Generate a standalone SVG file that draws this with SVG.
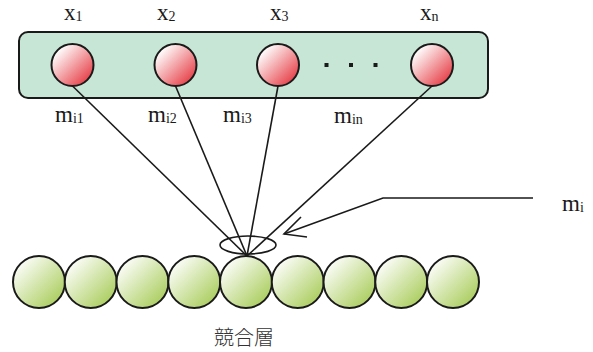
<svg xmlns="http://www.w3.org/2000/svg" width="593" height="352" viewBox="0 0 593 352">
  <defs>
    <linearGradient id="redBall" x1="0.15" y1="0.15" x2="0.9" y2="0.9">
      <stop offset="0" stop-color="#ffffff"/>
      <stop offset="1" stop-color="#e53a42"/>
    </linearGradient>
    <linearGradient id="greenBall" x1="0.1" y1="0.1" x2="1" y2="1">
      <stop offset="0" stop-color="#ffffff"/>
      <stop offset="1" stop-color="#9ec646"/>
    </linearGradient>
  </defs>
  <style>
    .inp { fill: url(#redBall); stroke: #1a1a1a; stroke-width: 2; }
    .unit { fill: url(#greenBall); stroke: #1a1a1a; stroke-width: 2; }
    .wire { stroke: #1a1a1a; stroke-width: 1.6; fill: none; }
    .lbl { font-family: "Liberation Serif", "DejaVu Serif", serif; font-size: 23px; fill: #1a1a1a; }
    .sub { font-size: 14px; }
    .cjk { font-family: "Noto Sans CJK JP", "Noto Sans CJK SC", sans-serif; font-size: 20px; fill: #333333; font-weight: 300; }
  </style>

  <!-- input layer -->
  <g id="input-layer">
    <rect x="19" y="32" width="469" height="66" rx="9" ry="9" fill="#c8e6d5" stroke="#1a1a1a" stroke-width="2"/>
  </g>
  <g id="x1"><circle class="inp" cx="72.5" cy="65" r="21"/></g>
  <g id="x2"><circle class="inp" cx="175.5" cy="65" r="21"/></g>
  <g id="x3"><circle class="inp" cx="278" cy="65" r="21"/></g>
  <g id="xn"><circle class="inp" cx="432" cy="65" r="21"/></g>
  <g id="ellipsis" fill="#1a1a1a">
    <rect x="324.5" y="63" width="4" height="4"/>
    <rect x="349" y="63" width="4" height="4"/>
    <rect x="373.5" y="63" width="4" height="4"/>
  </g>

  <!-- input labels -->
  <g id="input-labels" class="lbl">
    <text x="64" y="20">x<tspan class="sub" dy="1">1</tspan></text>
    <text x="157" y="20">x<tspan class="sub" dy="1">2</tspan></text>
    <text x="270" y="20">x<tspan class="sub" dy="1">3</tspan></text>
    <text x="420" y="20">x<tspan class="sub" dy="1">n</tspan></text>
  </g>

  <!-- connectors -->
  <g id="connectors">
    <line class="wire" x1="72.5" y1="86" x2="247" y2="256"/>
    <line class="wire" x1="175.5" y1="86" x2="247" y2="256"/>
    <line class="wire" x1="278" y1="86" x2="247" y2="256"/>
    <line class="wire" x1="432" y1="86" x2="247" y2="256"/>
    <ellipse class="wire" cx="248" cy="245" rx="28" ry="9"/>
    <polyline class="wire" points="533,198 383,198 284,234"/>
    <polyline class="wire" points="301,217 284,234 307,237"/>
  </g>

  <!-- weight labels -->
  <g id="weight-labels" class="lbl">
    <text x="55" y="122">m<tspan class="sub" dy="1">i1</tspan></text>
    <text x="148" y="122">m<tspan class="sub" dy="1">i2</tspan></text>
    <text x="223" y="122">m<tspan class="sub" dy="1">i3</tspan></text>
    <text x="334" y="123">m<tspan class="sub" dy="1">in</tspan></text>
    <text x="562" y="211">m<tspan class="sub" dy="1">i</tspan></text>
  </g>

  <!-- competitive layer -->
  <g id="u1"><circle class="unit" cx="39" cy="282" r="26"/></g>
  <g id="u2"><circle class="unit" cx="90.75" cy="282" r="26"/></g>
  <g id="u3"><circle class="unit" cx="142.5" cy="282" r="26"/></g>
  <g id="u4"><circle class="unit" cx="194.25" cy="282" r="26"/></g>
  <g id="u5"><circle class="unit" cx="246" cy="282" r="26"/></g>
  <g id="u6"><circle class="unit" cx="297.75" cy="282" r="26"/></g>
  <g id="u7"><circle class="unit" cx="349.5" cy="282" r="26"/></g>
  <g id="u8"><circle class="unit" cx="401.25" cy="282" r="26"/></g>
  <g id="u9"><circle class="unit" cx="453" cy="282" r="26"/></g>

  <g id="layer-label">
    <text class="cjk" x="244" y="345" text-anchor="middle">競合層</text>
  </g>
</svg>
